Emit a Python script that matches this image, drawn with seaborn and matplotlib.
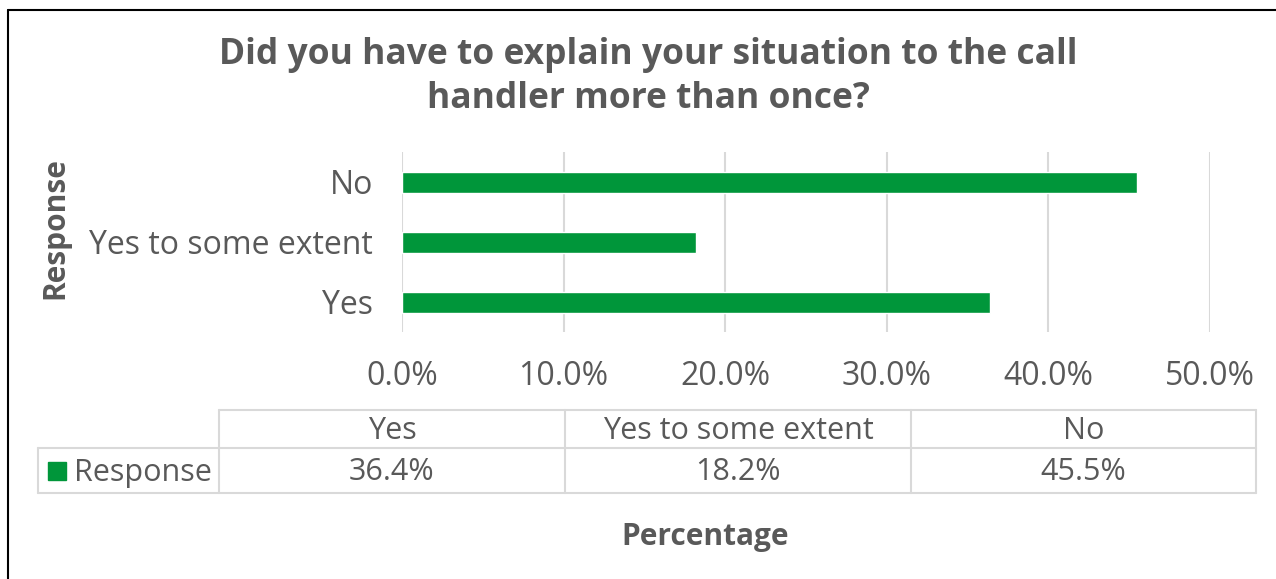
import matplotlib
matplotlib.use("Agg")
import matplotlib.pyplot as plt
import seaborn as sns
import pandas as pd
from matplotlib.lines import Line2D
from matplotlib.patches import Rectangle

categories = ["Yes", "Yes to some extent", "No"]
values = [36.4, 18.2, 45.5]
value_labels = ["36.4%", "18.2%", "45.5%"]
xticks = [0, 10, 20, 30, 40, 50]
xtick_labels = ["0.0%", "10.0%", "20.0%", "30.0%", "40.0%", "50.0%"]
series_name = "Response"

sns.set_theme(style="white")
plt.rcParams['font.family'] = ['Open Sans', 'DejaVu Sans']

TXT = "#595959"
GRID = "#d9d9d9"
GREEN = "#00963A"
W, H = 1276, 579

df = pd.DataFrame({"Response": categories, "Percentage": values})

fig = plt.figure(figsize=(W / 100, H / 100), dpi=100)
ax = fig.add_axes([402 / W, 1 - 332 / H, (1210 - 402) / W, (332 - 152) / H])

sns.barplot(data=df, y="Response", x="Percentage", order=categories[::-1],
            color=GREEN, saturation=1, width=0.35, ax=ax, orient="h")

ax.set_xlim(0, 50)
ax.set_ylim(2.5, -0.5)
ax.set_xticks(xticks)
ax.set_xticklabels(xtick_labels)
ax.grid(axis="x", color=GRID, linewidth=1.5)
ax.set_axisbelow(True)
for s in ax.spines.values():
    s.set_visible(False)
ax.tick_params(axis="both", length=0, labelsize=23, colors=TXT)
ax.tick_params(axis="x", pad=20)
ax.tick_params(axis="y", pad=21)
ax.set_xlabel("")
ax.set_ylabel("")

# axis titles
fig.text(55 / W, 1 - 228 / H, "Response", rotation=90, ha="center", va="center",
         fontsize=21.5, fontweight="bold", color=TXT)
fig.text(705 / W, 1 - 537 / H, "Percentage", ha="center", va="center",
         fontsize=21.5, fontweight="bold", color=TXT)

# title
fig.text(648 / W, 1 - 77 / H,
         "Did you have to explain your situation to the call\nhandler more than once?",
         ha="center", va="center", fontsize=25.5, fontweight="bold", color=TXT,
         linespacing=1.3)

# data table
def fx(x):
    return x / W

def fy(y):
    return 1 - y / H

col_edges = [219, 565, 911, 1256]
top, mid, bot = 410, 448, 493
lw = 1.5
fig.add_artist(Line2D([fx(219), fx(1256)], [fy(top), fy(top)], color=GRID, lw=lw))
fig.add_artist(Line2D([fx(38), fx(1256)], [fy(mid), fy(mid)], color=GRID, lw=lw))
fig.add_artist(Line2D([fx(38), fx(1256)], [fy(bot), fy(bot)], color=GRID, lw=lw))
fig.add_artist(Line2D([fx(38), fx(38)], [fy(mid), fy(bot)], color=GRID, lw=lw))
for xe in col_edges:
    fig.add_artist(Line2D([fx(xe), fx(xe)], [fy(top), fy(bot)], color=GRID, lw=lw))

for i, (cat, lab) in enumerate(zip(categories, value_labels)):
    cx = (col_edges[i] + col_edges[i + 1]) / 2
    fig.text(fx(cx), fy((top + mid) / 2 + 2), cat, ha="center", va="center",
             fontsize=22, color=TXT)
    fig.text(fx(cx), fy((mid + bot) / 2 + 2), lab, ha="center", va="center",
             fontsize=22, color=TXT)

fig.add_artist(Rectangle((fx(48), fy(480)), 18 / W, 18 / H, color=GREEN,
                         transform=fig.transFigure))
fig.text(fx(74), fy((mid + bot) / 2 + 2), series_name, ha="left", va="center",
         fontsize=22, color=TXT)

# outer frame (top and left)
fig.add_artist(Line2D([fx(8), fx(W)], [fy(10), fy(10)], color="black", lw=1.5))
fig.add_artist(Line2D([fx(8), fx(8)], [fy(10), 0], color="black", lw=1.5))

fig.savefig("out.png", dpi=100, facecolor="white")
